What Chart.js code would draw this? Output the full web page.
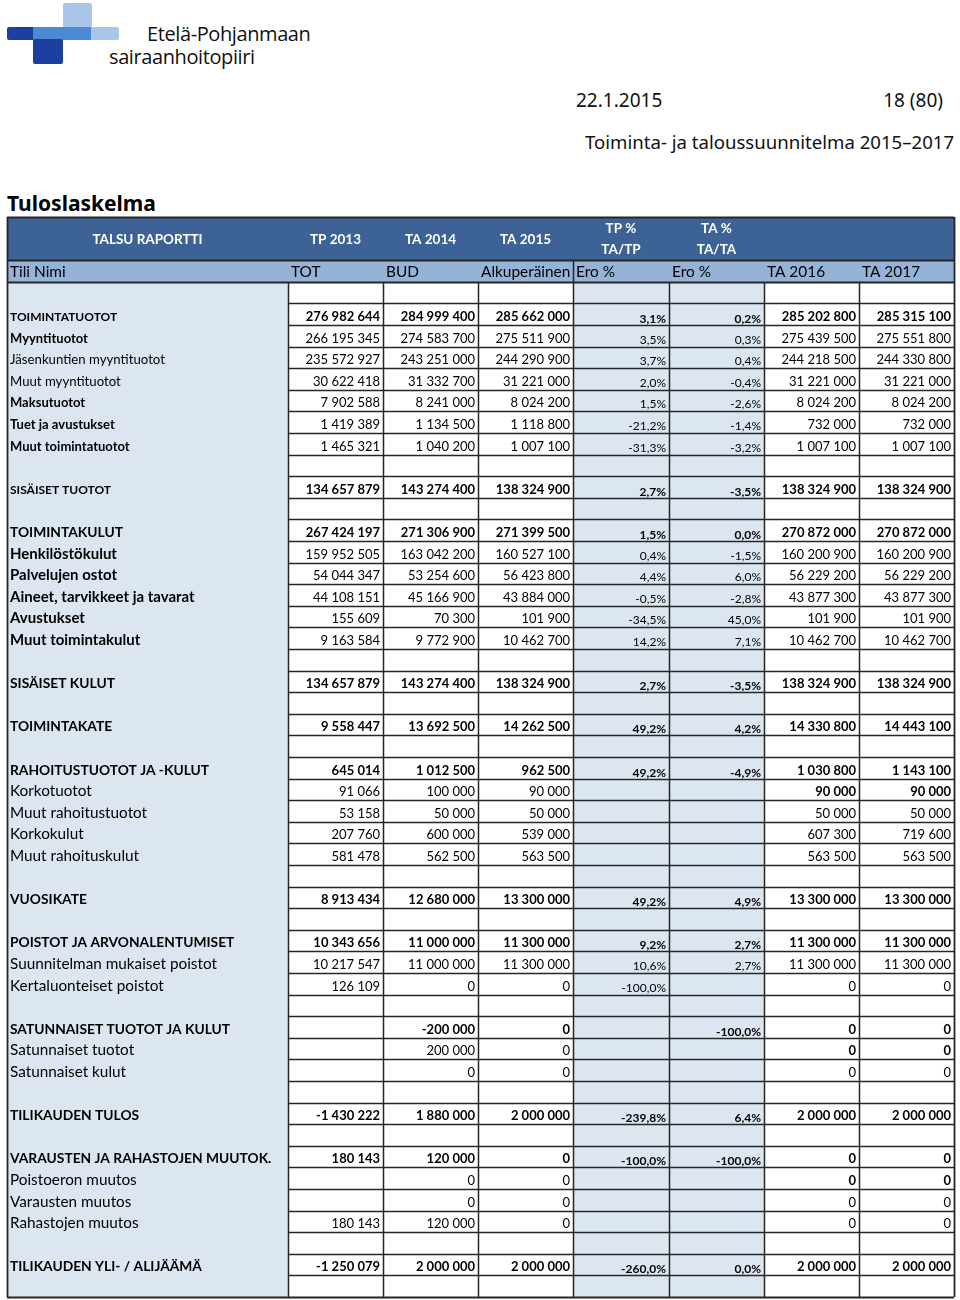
<!DOCTYPE html>
<html lang="fi">
<head>
<meta charset="utf-8">
<title>Tuloslaskelma</title>
<script src="https://cdn.jsdelivr.net/npm/chart.js@4.4.1/dist/chart.umd.min.js"></script>
<style>
  body { margin: 0; background: #fff; width: 960px; height: 1300px; position: relative; overflow: hidden; }
  .blk { position: absolute; border-radius: 2px; }
  .txt { position: absolute; line-height: 1; white-space: nowrap; color: #111; font-family: "Noto Sans", sans-serif; }
  #table { position: absolute; left: 4px; top: 214px; }
</style>
</head>
<body>
<!-- logo -->
<div class="blk" style="left:63px;top:3px;width:29px;height:25px;background:#a9c6ea"></div>
<div class="blk" style="left:7px;top:27px;width:28px;height:13px;background:#1d3fa0"></div>
<div class="blk" style="left:33px;top:27px;width:59px;height:13px;background:#4c89d4"></div>
<div class="blk" style="left:91px;top:27px;width:28px;height:13px;background:#a9c6ea"></div>
<div class="blk" style="left:33px;top:39px;width:30px;height:25px;background:#1d3fa0"></div>
<div class="txt" style="left:147px;top:24px;font-family:'Open Sans',sans-serif;font-size:20px;letter-spacing:-0.4px">Etelä-Pohjanmaan</div>
<div class="txt" style="left:109px;top:47px;font-family:'Open Sans',sans-serif;font-size:20px;letter-spacing:-0.4px">sairaanhoitopiiri</div>

<div class="txt" style="left:576px;top:91px;font-size:19px">22.1.2015</div>
<div class="txt" style="right:17px;top:91px;font-size:19px">18 (80)</div>
<div class="txt" style="left:585px;top:133px;font-size:18.6px">Toiminta- ja taloussuunnitelma 2015–2017</div>
<div class="txt" style="left:7px;top:193px;font-size:21px;font-weight:bold;color:#000">Tuloslaskelma</div>

<canvas id="table" width="953" height="1086"></canvas>

<script>
const _ = null;

// otsikot
const headTop = [['TALSU RAPORTTI'], ['TP 2013'], ['TA 2014'], ['TA 2015'], ['TP %', 'TA/TP'], ['TA %', 'TA/TA'], [], []];
const headSub = ['Tili Nimi', 'TOT', 'BUD', 'Alkuperäinen', 'Ero %', 'Ero %', 'TA 2016', 'TA 2017'];

// rivit
const rowNames = [
  '', 'TOIMINTATUOTOT', 'Myyntituotot', 'Jäsenkuntien myyntituotot', 'Muut myyntituotot',
  'Maksutuotot', 'Tuet ja avustukset', 'Muut toimintatuotot', '', 'SISÄISET TUOTOT', '',
  'TOIMINTAKULUT', 'Henkilöstökulut', 'Palvelujen ostot', 'Aineet, tarvikkeet ja tavarat',
  'Avustukset', 'Muut toimintakulut', '', 'SISÄISET KULUT', '', 'TOIMINTAKATE', '',
  'RAHOITUSTUOTOT JA -KULUT', 'Korkotuotot', 'Muut rahoitustuotot', 'Korkokulut',
  'Muut rahoituskulut', '', 'VUOSIKATE', '', 'POISTOT JA ARVONALENTUMISET',
  'Suunnitelman mukaiset poistot', 'Kertaluonteiset poistot', '', 'SATUNNAISET TUOTOT JA KULUT',
  'Satunnaiset tuotot', 'Satunnaiset kulut', '', 'TILIKAUDEN TULOS', '',
  'VARAUSTEN JA RAHASTOJEN MUUTOK.', 'Poistoeron muutos', 'Varausten muutos',
  'Rahastojen muutos', '', 'TILIKAUDEN YLI- / ALIJÄÄMÄ', ''
];

const tp2013 = [_, 276982644, 266195345, 235572927, 30622418, 7902588, 1419389, 1465321, _, 134657879, _,
  267424197, 159952505, 54044347, 44108151, 155609, 9163584, _, 134657879, _, 9558447, _,
  645014, 91066, 53158, 207760, 581478, _, 8913434, _, 10343656, 10217547, 126109, _,
  _, _, _, _, -1430222, _, 180143, _, _, 180143, _, -1250079, _];
const ta2014 = [_, 284999400, 274583700, 243251000, 31332700, 8241000, 1134500, 1040200, _, 143274400, _,
  271306900, 163042200, 53254600, 45166900, 70300, 9772900, _, 143274400, _, 13692500, _,
  1012500, 100000, 50000, 600000, 562500, _, 12680000, _, 11000000, 11000000, 0, _,
  -200000, 200000, 0, _, 1880000, _, 120000, 0, 0, 120000, _, 2000000, _];
const ta2015 = [_, 285662000, 275511900, 244290900, 31221000, 8024200, 1118800, 1007100, _, 138324900, _,
  271399500, 160527100, 56423800, 43884000, 101900, 10462700, _, 138324900, _, 14262500, _,
  962500, 90000, 50000, 539000, 563500, _, 13300000, _, 11300000, 11300000, 0, _,
  0, 0, 0, _, 2000000, _, 0, 0, 0, 0, _, 2000000, _];
const tpPct = [_, 3.1, 3.5, 3.7, 2.0, 1.5, -21.2, -31.3, _, 2.7, _,
  1.5, 0.4, 4.4, -0.5, -34.5, 14.2, _, 2.7, _, 49.2, _,
  49.2, _, _, _, _, _, 49.2, _, 9.2, 10.6, -100.0, _,
  _, _, _, _, -239.8, _, -100.0, _, _, _, _, -260.0, _];
const taPct = [_, 0.2, 0.3, 0.4, -0.4, -2.6, -1.4, -3.2, _, -3.5, _,
  0.0, -1.5, 6.0, -2.8, 45.0, 7.1, _, -3.5, _, 4.2, _,
  -4.9, _, _, _, _, _, 4.9, _, 2.7, 2.7, _, _,
  -100.0, _, _, _, 6.4, _, -100.0, _, _, _, _, 0.0, _];
const ta2016 = [_, 285202800, 275439500, 244218500, 31221000, 8024200, 732000, 1007100, _, 138324900, _,
  270872000, 160200900, 56229200, 43877300, 101900, 10462700, _, 138324900, _, 14330800, _,
  1030800, 90000, 50000, 607300, 563500, _, 13300000, _, 11300000, 11300000, 0, _,
  0, 0, 0, _, 2000000, _, 0, 0, 0, 0, _, 2000000, _];
const ta2017 = [_, 285315100, 275551800, 244330800, 31221000, 8024200, 732000, 1007100, _, 138324900, _,
  270872000, 160200900, 56229200, 43877300, 101900, 10462700, _, 138324900, _, 14443100, _,
  1143100, 90000, 50000, 719600, 563500, _, 13300000, _, 11300000, 11300000, 0, _,
  0, 0, 0, _, 2000000, _, 0, 0, 0, 0, _, 2000000, _];

// tyylit (erillään datasta)
const boldNameRows = [1, 2, 5, 6, 7, 9, 11, 12, 13, 14, 15, 16, 18, 20, 22, 28, 30, 34, 38, 40, 45];
const boldValueRows = [1, 9, 11, 18, 20, 22, 28, 30, 34, 38, 40, 45];
const boldLateRows = [23, 35, 41]; // TA 2016 / TA 2017 lihavoitu
const smallNameRows = [1, 2, 3, 4, 5, 6, 7, 9];

const columns = [tp2013, ta2014, ta2015, tpPct, taPct, ta2016, ta2017];
const pctCols = [3, 4];
const nameEdge = -2.955;   // nimisarakkeen leveys sarakeyksikköinä
const headRows = 3;
const FONT = 'Lato, "Open Sans", sans-serif';

function fmtNum(n) {
  const s = Math.abs(n).toString().replace(/\B(?=(\d{3})+(?!\d))/g, ' ');
  return (n < 0 ? '-' : '') + s;
}
function fmtPct(n) {
  return n.toFixed(1).replace('.', ',') + '%';
}

function nameFont(r) {
  const bold = boldNameRows.includes(r);
  const small = smallNameRows.includes(r);
  const caps = rowNames[r] === rowNames[r].toUpperCase();
  let size;
  if (small) size = bold ? (caps ? 12 : 13) : 13.2;
  else size = bold ? (caps ? 13.8 : 15) : 15.3;
  return (bold ? 'bold ' : '') + size + 'px ' + FONT;
}

const tablePlugin = {
  id: 'tablePlugin',
  afterDraw(chart) {
    const { ctx, scales: { x, y } } = chart;
    const X = v => Math.round(x.getPixelForValue(v));
    const Y = v => Math.round(y.getPixelForValue(v));
    const nRows = rowNames.length;
    const yEnd = headRows + nRows;
    ctx.save();

    // taustat
    ctx.fillStyle = '#3d6295';
    ctx.fillRect(X(nameEdge), Y(0), X(7) - X(nameEdge), Y(2) - Y(0));
    ctx.fillStyle = '#95b3d7';
    ctx.fillRect(X(nameEdge), Y(2), X(7) - X(nameEdge), Y(3) - Y(2));
    ctx.fillStyle = '#dce6f1';
    ctx.fillRect(X(nameEdge), Y(3), X(0) - X(nameEdge), Y(yEnd) - Y(3));
    pctCols.forEach(c => ctx.fillRect(X(c), Y(3), X(c + 1) - X(c), Y(yEnd) - Y(3)));

    // viivat
    ctx.strokeStyle = '#262626';
    ctx.lineWidth = 1.5;
    const hline = (x0, x1, yy) => { ctx.beginPath(); ctx.moveTo(x0, yy + 0.5); ctx.lineTo(x1, yy + 0.5); ctx.stroke(); };
    const vline = (xx, y0, y1) => { ctx.beginPath(); ctx.moveTo(xx + 0.5, y0); ctx.lineTo(xx + 0.5, y1); ctx.stroke(); };
    for (let r = headRows + 1; r < yEnd; r++) hline(X(0), X(7), Y(r));
    for (let c = 0; c <= 6; c++) vline(X(c), Y(3), Y(yEnd));
    vline(X(3), Y(2), Y(3));
    ctx.lineWidth = 1.8;
    [0, 2, 3, yEnd].forEach(r => hline(X(nameEdge), X(7), Y(r)));
    vline(X(nameEdge), Y(0), Y(yEnd));
    vline(X(7), Y(0), Y(yEnd));

    // otsikkotekstit
    ctx.fillStyle = '#fff';
    ctx.font = 'bold 13.5px ' + FONT;
    ctx.textAlign = 'center';
    headTop.forEach((lines, c) => {
      const cx = c === 0 ? (X(nameEdge) + X(0)) / 2 : (X(c - 1) + X(c)) / 2;
      if (lines.length === 1) ctx.fillText(lines[0], cx, Y(1) + 5);
      else lines.forEach((t, k) => ctx.fillText(t, cx, Y(0.5 + k) + 5));
    });
    ctx.fillStyle = '#000';
    ctx.font = '15.4px ' + FONT;
    ctx.textAlign = 'left';
    headSub.forEach((t, c) => {
      const left = c === 0 ? X(nameEdge) : X(c - 1);
      ctx.fillText(t, left + 3, Y(3) - 5);
    });

    // rivit
    rowNames.forEach((name, r) => {
      const base = Y(headRows + r + 1);
      ctx.textAlign = 'left';
      ctx.font = nameFont(r);
      ctx.fillText(name, X(nameEdge) + 3, base - 4);

      ctx.textAlign = 'right';
      columns.forEach((col, c) => {
        const v = col[r];
        if (v === null) return;
        const isPct = pctCols.includes(c);
        const bold = boldValueRows.includes(r) || (c >= 5 && boldLateRows.includes(r));
        if (isPct) {
          ctx.font = (bold ? 'bold ' : '') + '12px ' + FONT;
          ctx.fillText(fmtPct(v), X(c + 1) - 3, base - (bold ? 2 : 3));
        } else {
          ctx.font = (bold ? 'bold ' : '') + '13px ' + FONT;
          ctx.fillText(fmtNum(v), X(c + 1) - 3, base - 4);
        }
      });
    });
    ctx.restore();
  }
};

new Chart(document.getElementById('table'), {
  type: 'scatter',
  data: { datasets: [] },
  options: {
    responsive: false,
    animation: false,
    devicePixelRatio: 1,
    layout: { padding: { left: 3, right: 3, top: 3, bottom: 3 } },
    plugins: { legend: { display: false }, tooltip: { enabled: false } },
    scales: {
      x: { type: 'linear', min: nameEdge, max: 7, display: false },
      y: { type: 'linear', min: 0, max: headRows + rowNames.length, reverse: true, display: false }
    }
  },
  plugins: [tablePlugin]
});
</script>
</body>
</html>
